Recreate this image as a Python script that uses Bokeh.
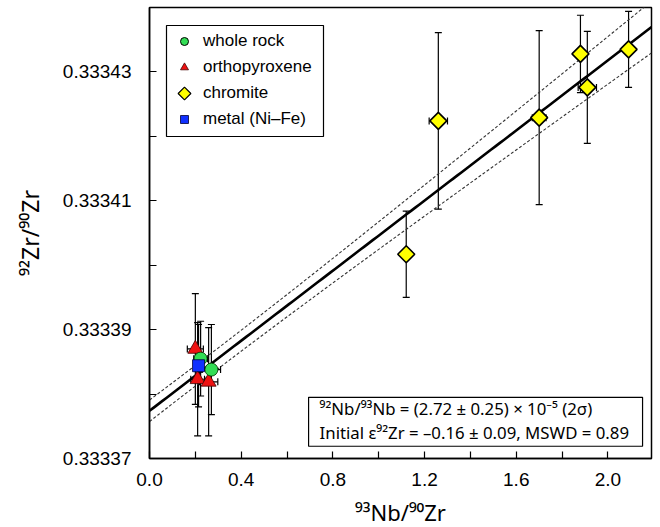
import numpy as np
from bokeh.plotting import figure
from bokeh.layouts import column
from bokeh.models import (ColumnDataSource, Whisker, TeeHead, Legend, LegendItem,
                          BoxAnnotation, Label, FixedTicker, PrintfTickFormatter, Range1d)
from bokeh.embed import file_html
from bokeh.resources import INLINE

# ---- data ----
chromite_x = [1.12, 1.26, 1.70, 1.88, 1.91, 2.09]
chromite_y = [0.3334017, 0.3334224, 0.3334229, 0.3334328, 0.3334276, 0.3334335]
chromite_xerr = [0.02, 0.04, 0.03, 0.02, 0.04, 0.02]
chromite_yerr = [0.0000067, 0.0000137, 0.0000135, 0.0000060, 0.0000087, 0.0000059]

wr_x = [0.223, 0.270]
wr_y = [0.3333855, 0.3333838]
wr_xerr = [0.03, 0.04]
wr_yerr = [0.0000058, 0.0000070]

opx_x = [0.200, 0.210, 0.258]
opx_y = [0.3333870, 0.3333823, 0.3333819]
opx_xerr = [0.035, 0.03, 0.04]
opx_yerr = [0.0000086, 0.0000088, 0.0000084]

metal_x = [0.214]
metal_y = [0.3333844]
metal_xerr = [0.02]
metal_yerr = [0.0000064]

# isochron fit
fit_slope = 2.72e-5
fit_intercept = 0.3333774
env_a = 0.16e-5      # envelope half-width at centroid
env_b = 0.19e-5      # slope uncertainty contribution
env_c = 0.25         # centroid x

x_ticks = [0.0, 0.4, 0.8, 1.2, 1.6, 2.0]
x_minor = [0.2, 0.6, 1.0, 1.4, 1.8]
y_ticks = [0.33337, 0.33339, 0.33341, 0.33343]
y_minor = [0.33338, 0.33340, 0.33342]

X0, X1 = 0.0, 2.19
Y0, Y1 = 0.33337, 0.33344
FRAME_W, FRAME_H = 502, 451

FONT = "Liberation Sans"
SUPFONT = "Noto Sans"

def fx(px):   # frame pixel offset (from left) -> x data
    return X0 + px / FRAME_W * (X1 - X0)

def fy(py):   # frame pixel offset (from top) -> y data
    return Y1 - py / FRAME_H * (Y1 - Y0)

p = figure(width=658, height=496, output_backend="svg", toolbar_location=None,
           x_range=Range1d(X0, X1), y_range=Range1d(Y0, Y1),
           min_border_left=149, min_border_right=7, min_border_top=7, min_border_bottom=38)
p.xgrid.visible = False
p.ygrid.visible = False
p.outline_line_color = "black"
p.outline_line_width = 1.5
p.background_fill_color = "white"

# ---- legend frame (drawn under the glyphs) ----
LEG_L, LEG_T, LEG_R, LEG_B = 17, 18, 174, 129
p.add_layout(BoxAnnotation(left=fx(LEG_L), right=fx(LEG_R), top=fy(LEG_T), bottom=fy(LEG_B),
                           fill_color="white", fill_alpha=1, line_color="black",
                           line_alpha=1, line_width=1.2, level="underlay"))

# ---- isochron line & envelope ----
xl = np.linspace(X0, X1, 120)
yl = fit_intercept + fit_slope * xl
hw = np.sqrt(env_a ** 2 + (env_b * (xl - env_c)) ** 2)
p.line(xl, yl, line_color="black", line_width=2.6)
p.line(xl, yl + hw, line_color="#333333", line_width=1.1, line_dash="3 2")
p.line(xl, yl - hw, line_color="#333333", line_width=1.1, line_dash="3 2")

# ---- error bars ----
def errbars(xs, ys, xe, ye):
    xs = np.array(xs); ys = np.array(ys); xe = np.array(xe); ye = np.array(ye)
    src = ColumnDataSource(dict(x=xs, y=ys, xl=xs - xe, xu=xs + xe, yl=ys - ye, yu=ys + ye))
    for dim, base, lo, up in (("height", "x", "yl", "yu"), ("width", "y", "xl", "xu")):
        w = Whisker(source=src, base=base, lower=lo, upper=up, dimension=dim,
                    line_color="black", line_width=1.2, level="underlay",
                    upper_head=TeeHead(size=7, line_width=1.2, line_color="black"),
                    lower_head=TeeHead(size=7, line_width=1.2, line_color="black"))
        p.add_layout(w)

errbars(chromite_x, chromite_y, chromite_xerr, chromite_yerr)
errbars(opx_x, opx_y, opx_xerr, opx_yerr)
errbars(wr_x, wr_y, wr_xerr, wr_yerr)
errbars(metal_x, metal_y, metal_xerr, metal_yerr)

# ---- markers ----
GREEN, RED, YELLOW, BLUE = "#33dd55", "#ee1111", "#ffff00", "#1030ff"
DIAMOND_ANGLE = np.pi / 4
p.scatter(chromite_x, chromite_y, marker="square", angle=DIAMOND_ANGLE, size=12,
          fill_color=YELLOW, line_color="black", line_width=1.6)
p.scatter(opx_x, opx_y, marker="triangle", size=15, fill_color=RED,
          line_color="#440000", line_width=0.8)
p.scatter(wr_x, wr_y, marker="circle", size=13, fill_color=GREEN,
          line_color="#003300", line_width=0.8)
p.scatter(metal_x, metal_y, marker="square", size=12, fill_color=BLUE,
          line_color="#000033", line_width=0.8)

# ---- legend: transparent Bokeh legend over the box above ----
off_x, off_y = [X0 - 10], [Y0 - 1]
lg_wr = p.scatter(off_x, off_y, marker="circle", size=11, fill_color=GREEN, line_color="black", line_width=1)
lg_opx = p.scatter(off_x, off_y, marker="triangle", size=12, fill_color=RED, line_color="#440000", line_width=0.8)
lg_chr = p.scatter(off_x, off_y, marker="square", size=9, fill_alpha=0, line_alpha=0)
lg_met = p.scatter(off_x, off_y, marker="square", size=10, fill_color=BLUE, line_color="#000033", line_width=0.8)
LEG_MARGIN, LEG_PAD, LEG_ROW, LEG_SP, LEG_GW = 17, 7, 20, 6, 22
legend = Legend(items=[LegendItem(label="whole rock", renderers=[lg_wr]),
                       LegendItem(label="orthopyroxene", renderers=[lg_opx]),
                       LegendItem(label="chromite", renderers=[lg_chr]),
                       LegendItem(label="metal (Ni–Fe)", renderers=[lg_met])],
                location="top_left", margin=LEG_MARGIN, padding=LEG_PAD, spacing=LEG_SP,
                glyph_width=LEG_GW, glyph_height=LEG_ROW, label_height=LEG_ROW, label_standoff=8,
                label_text_font=FONT, label_text_font_size="17px", label_text_color="black",
                border_line_alpha=0, background_fill_alpha=0)
p.add_layout(legend)
# rotated-square swatch for chromite (legend glyphs ignore angle)
sw_px = LEG_MARGIN + LEG_PAD + LEG_GW / 2
sw_py = LEG_MARGIN + LEG_PAD + 2 * (LEG_ROW + LEG_SP) + LEG_ROW / 2
p.scatter([fx(sw_px)], [fy(sw_py)], marker="square", angle=DIAMOND_ANGLE, size=9,
          fill_color=YELLOW, line_color="black", line_width=1.2)

# ---- annotation box ----
box = BoxAnnotation(left=0.694, right=2.151, bottom=0.3333719, top=0.3333795,
                    fill_color="white", fill_alpha=1, line_color="black", line_alpha=1,
                    line_width=1.2)
p.add_layout(box)
p.add_layout(Label(x=0.742, y=0.3333778, text="⁹²Nb/⁹³Nb = (2.72 ± 0.25) × 10⁻⁵ (2σ)",
                   text_font=SUPFONT, text_font_size="16.8px", text_baseline="middle", text_color="black"))
p.add_layout(Label(x=0.742, y=0.3333740, text="Initial ε⁹²Zr = –0.16 ± 0.09, MSWD = 0.89",
                   text_font=SUPFONT, text_font_size="16.8px", text_baseline="middle", text_color="black"))

# ---- axes ----
p.xaxis.ticker = FixedTicker(ticks=x_ticks, minor_ticks=x_minor)
p.yaxis.ticker = FixedTicker(ticks=y_ticks, minor_ticks=y_minor)
p.xaxis.formatter = PrintfTickFormatter(format="%.1f")
p.yaxis.formatter = PrintfTickFormatter(format="%.5f")
for ax in (p.xaxis, p.yaxis):
    ax.axis_line_color = "black"
    ax.axis_line_width = 1.5
    ax.major_tick_in = 7
    ax.major_tick_out = 0
    ax.minor_tick_in = 7
    ax.minor_tick_out = 0
    ax.major_tick_line_width = 1.2
    ax.minor_tick_line_width = 1.2
    ax.major_tick_line_color = "black"
    ax.minor_tick_line_color = "black"
    ax.major_label_text_font = FONT
    ax.major_label_text_font_size = "19px"
    ax.major_label_text_color = "black"
    ax.axis_label_text_font = SUPFONT
    ax.axis_label_text_font_size = "23px"
    ax.axis_label_text_font_style = "normal"
    ax.axis_label_text_color = "black"
p.yaxis.axis_label = "⁹²Zr/⁹⁰Zr"
p.xaxis.major_label_standoff = 14
p.yaxis.major_label_standoff = 18
p.yaxis.axis_label_standoff = 14

# ---- x-axis title in a thin strip below the plot (its frame aligns with the plot frame) ----
STRIP_H = 30
t = figure(width=658, height=STRIP_H, output_backend="svg", toolbar_location=None,
           x_range=Range1d(X0, X1), y_range=Range1d(0, STRIP_H),
           x_axis_type=None, y_axis_type=None, min_border=0)
t.xgrid.visible = False
t.ygrid.visible = False
t.outline_line_color = None
t.add_layout(Label(x=(X0 + X1) / 2, y=STRIP_H / 2, text="⁹³Nb/⁹⁰Zr", text_font=SUPFONT,
                   text_font_size="22px", text_align="center", text_baseline="middle",
                   text_color="black"))

layout = column(p, t, spacing=0)
open("out.html", "w").write(file_html(layout, INLINE))
